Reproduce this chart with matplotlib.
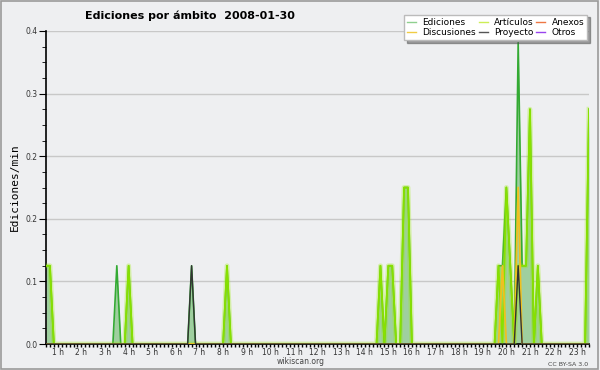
import matplotlib
matplotlib.use("Agg")
import matplotlib.pyplot as plt
from matplotlib.lines import Line2D
from matplotlib.ticker import MultipleLocator, FixedLocator, FuncFormatter
import numpy as np

# 10 minute bins, values in edits/min
ed_times = ["00:30", "00:40", "03:30", "04:00", "06:40", "08:10", "14:40", "15:00",
            "15:10", "15:40", "15:50", "19:40", "19:50", "20:00", "20:10", "20:30",
            "20:40", "20:50", "21:00", "21:20", "23:30"]
ed_vals = [0.1, 0.1, 0.1, 0.1, 0.1, 0.1, 0.1, 0.1,
           0.1, 0.2, 0.2, 0.1, 0.1, 0.2, 0.1, 0.385,
           0.1, 0.1, 0.3, 0.1, 0.3]

art_times = ["00:30", "00:40", "04:00", "08:10", "14:40", "15:00", "15:10", "15:40",
             "15:50", "19:40", "20:00", "20:10", "20:30", "20:40", "20:50", "21:00",
             "21:20", "23:30"]
art_vals = [0.1, 0.1, 0.1, 0.1, 0.1, 0.1, 0.1, 0.2,
            0.2, 0.1, 0.2, 0.1, 0.1, 0.1, 0.1, 0.3,
            0.1, 0.3]

disc_times = ["19:50", "20:30"]
disc_vals = [0.1, 0.2]

proy_times = ["06:40", "20:30"]
proy_vals = [0.1, 0.1]

hour_labels = ["%d h" % h for h in range(1, 24)]
legend_names = ["Ediciones", "Discusiones", "Artículos", "Proyecto", "Anexos", "Otros"]
legend_colors = ["#8fd08f", "#f0cc44", "#ccee55", "#555555", "#ee7744", "#9944ee"]

t0, t1 = 0.5, 23.5
grid = np.round(np.arange(t0, t1 + 1e-6, 1 / 6), 4)


def to_h(s):
    hh, mm = s.split(":")
    return round(int(hh) + int(mm) / 60, 4)


def series(times, vals):
    y = np.zeros(len(grid))
    for t, v in zip(times, vals):
        y[np.argmin(np.abs(grid - to_h(t)))] = v
    return y


ed = series(ed_times, ed_vals)
art = series(art_times, art_vals)
disc = series(disc_times, disc_vals)
proy = series(proy_times, proy_vals)

bg = "#eeeff1"
fig = plt.figure(figsize=(6, 3.7), dpi=100, facecolor=bg)
fig.patches.append(plt.Rectangle((0.002, 0.003), 0.995, 0.994, transform=fig.transFigure,
                                 fill=False, edgecolor="#9a9a9a", lw=1.2))
ax = fig.add_axes([46 / 600, 1 - 344 / 370, 543 / 600, 313 / 370])
ax.set_facecolor(bg)

ax.fill_between(grid, ed, color="#9fcf9f", lw=0, zorder=2)
ax.plot(grid, ed, color="#33aa33", lw=1.2, zorder=3)
ax.plot(grid, art, color="#99ee00", lw=3.5, alpha=0.3, zorder=4)
ax.plot(grid, art, color="#88e000", lw=1.3, zorder=4)
ax.plot(grid, disc, color="#f0c020", lw=1.3, zorder=5)
ax.plot(grid, proy, color="#333333", lw=1.0, zorder=6)

ax.set_xlim(t0, t1)
ax.set_ylim(0, 0.4)
ax.yaxis.set_major_locator(MultipleLocator(0.08))
ax.yaxis.set_minor_locator(MultipleLocator(0.02))
ax.yaxis.set_major_formatter(FuncFormatter(lambda v, p: "%.1f" % v))
ax.xaxis.set_major_locator(FixedLocator(range(1, 24)))
ax.set_xticklabels(hour_labels)
ax.xaxis.set_minor_locator(FixedLocator(grid))
ax.grid(axis="y", which="major", color="#c8c8c8", lw=1, zorder=1)
for s in ["top", "right"]:
    ax.spines[s].set_visible(False)
ax.spines["left"].set_linewidth(1.2)
ax.spines["bottom"].set_linewidth(1.2)
ax.tick_params(axis="y", which="major", length=5, labelsize=5.5, labelcolor="#333333", pad=1)
ax.tick_params(axis="y", which="minor", length=3)
ax.tick_params(axis="x", which="both", length=2.5, width=1, labelsize=5.5,
               labelcolor="#333333", pad=0.5)
ax.set_ylabel("Ediciones/min", fontsize=8, family="DejaVu Sans Mono")
ax.yaxis.set_label_coords(-0.048, 0.5)

fig.text(85 / 600, 1 - 16 / 370, "Ediciones por ámbito  2008-01-30", fontsize=8,
         fontweight="bold", ha="left", va="center")
fig.text(301 / 600, 1 - 362 / 370, "wikiscan.org", fontsize=5.5, color="#444444",
         ha="center", va="center")
fig.text(588 / 600, 1 - 364 / 370, "CC BY-SA 3.0", fontsize=4.5, color="#444444",
         ha="right", va="center")

handles = [Line2D([], [], color=c, lw=1) for c in legend_colors]
leg = fig.legend(handles, legend_names, ncol=3, loc="upper right",
                 bbox_to_anchor=(592 / 600, 1 - 10 / 370), fontsize=6.5, frameon=True,
                 fancybox=False, shadow=True, handlelength=1.0, handletextpad=0.7,
                 columnspacing=0.3, labelspacing=0.15, borderpad=0.35)
leg.get_frame().set_facecolor("#ffffff")
leg.get_frame().set_edgecolor("#bbbbbb")

fig.savefig("out.png", dpi=100, facecolor=bg)
